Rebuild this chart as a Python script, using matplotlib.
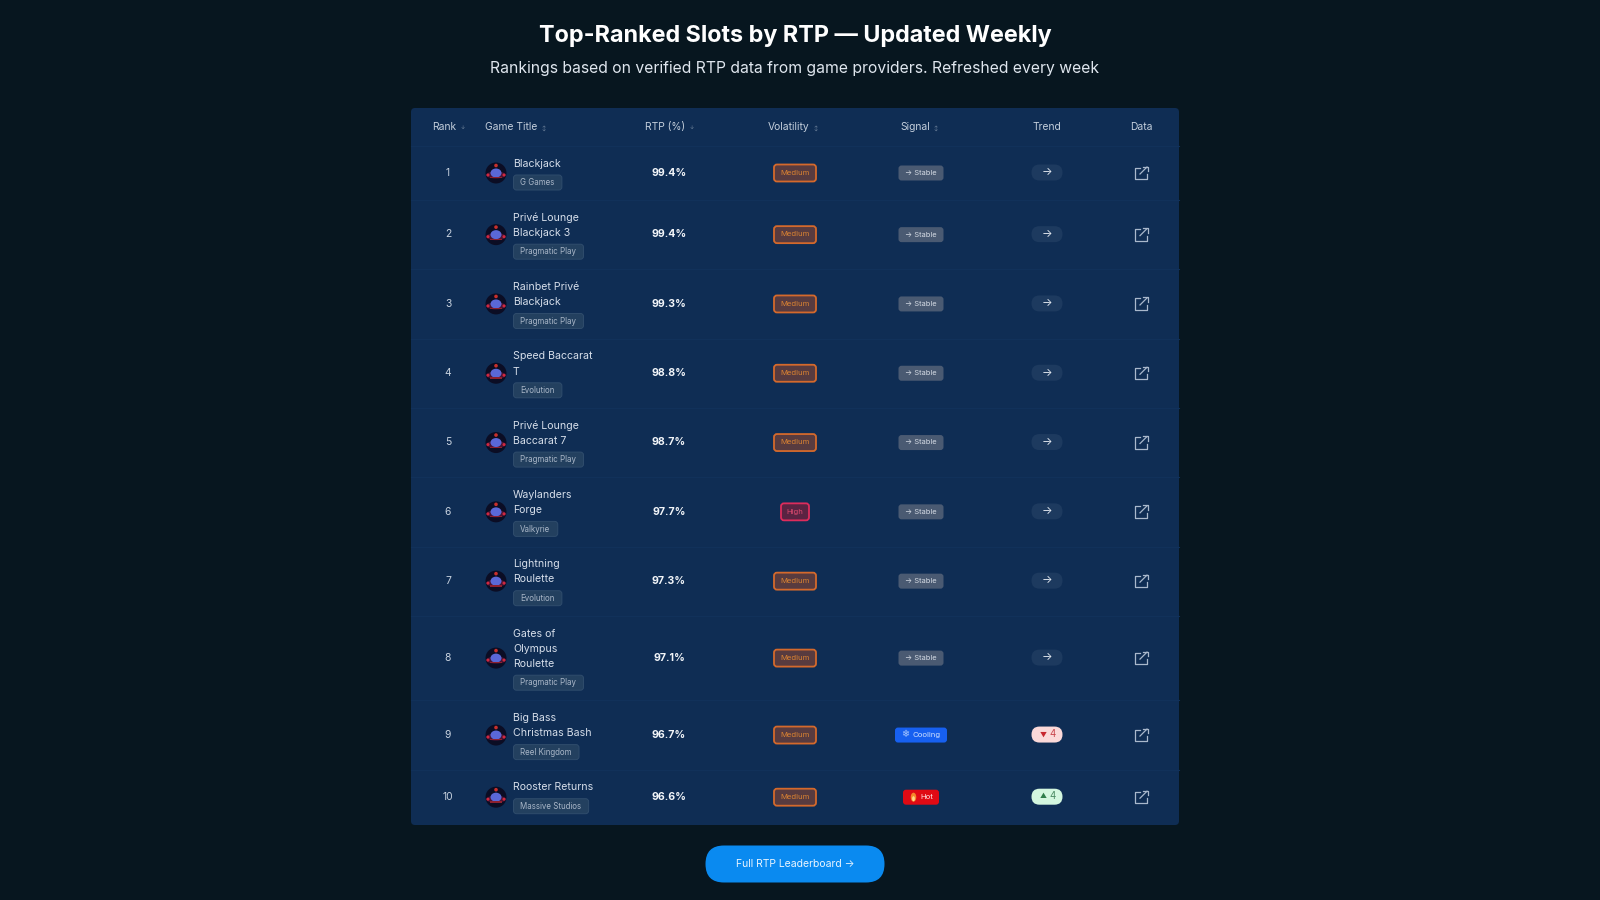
import matplotlib
matplotlib.use('Agg')
from matplotlib import pyplot as plt
from matplotlib.patches import FancyBboxPatch, Circle, Ellipse, Rectangle

plt.rcParams['font.family'] = ['Inter', 'DejaVu Sans']

# data
ranks = [1, 2, 3, 4, 5, 6, 7, 8, 9, 10]
titles = ['Blackjack', 'Privé Lounge\nBlackjack 3', 'Rainbet Privé\nBlackjack', 'Speed Baccarat\nT',
          'Privé Lounge\nBaccarat 7', 'Waylanders\nForge', 'Lightning\nRoulette',
          'Gates of\nOlympus\nRoulette', 'Big Bass\nChristmas Bash', 'Rooster Returns']
providers = ['G Games', 'Pragmatic Play', 'Pragmatic Play', 'Evolution', 'Pragmatic Play',
             'Valkyrie', 'Evolution', 'Pragmatic Play', 'Reel Kingdom', 'Massive Studios']
rtp = [99.4, 99.4, 99.3, 98.8, 98.7, 97.7, 97.3, 97.1, 96.7, 96.6]
volatility = ['Medium', 'Medium', 'Medium', 'Medium', 'Medium', 'High', 'Medium', 'Medium', 'Medium', 'Medium']
signal = ['Stable', 'Stable', 'Stable', 'Stable', 'Stable', 'Stable', 'Stable', 'Stable', 'Cooling', 'Hot']
trend = [0, 0, 0, 0, 0, 0, 0, 0, -4, 4]

BG = '#07161f'
PANEL = '#0f2d54'
LINE = '#11315a'
WHITE = '#f2f5f9'
SOFT = '#c9d3e0'

fig = plt.figure(figsize=(16, 9), dpi=100, facecolor=BG)
ax = fig.add_axes([0, 0, 1, 1])
ax.set_xlim(0, 1600)
ax.set_ylim(900, 0)
ax.axis('off')
rend = fig.canvas.get_renderer()


def box(cx, cy, w, h, fc, ec='none', lw=0, r=3, z=3):
    p = FancyBboxPatch((cx - w / 2, cy - h / 2), w, h, boxstyle='round,pad=0,rounding_size=%s' % r,
                       fc=fc, ec=ec, lw=lw, zorder=z)
    ax.add_patch(p)


def label(x, y, s, size=7, color=SOFT, ha='center', weight='normal', **kw):
    return ax.text(x, y + 0.8, s, fontsize=size, color=color, ha=ha, va='center', weight=weight, zorder=6, **kw)


def game_icon(cx, cy):
    ax.add_patch(Circle((cx, cy), 10.5, fc='#0b0d24', ec='none', zorder=3))
    ax.add_patch(Ellipse((cx, cy + 2), 20, 7, fc='#4a1434', ec='none', zorder=4))
    ax.add_patch(Ellipse((cx, cy), 11, 9, fc='#5a68d8', ec='none', zorder=5))
    ax.add_patch(Circle((cx, cy - 7.5), 1.8, fc='#c8302c', ec='none', zorder=5))
    ax.add_patch(Circle((cx - 8, cy + 2), 1.5, fc='#d02840', ec='none', zorder=5))
    ax.add_patch(Circle((cx + 8, cy + 2), 1.5, fc='#d02840', ec='none', zorder=5))
    ax.add_patch(Rectangle((cx - 6, cy + 4), 12, 1.4, fc='#8c2030', ec='none', zorder=5))


def export_icon(cx, cy):
    c = '#a9b8cc'
    ax.plot([cx - 1, cx - 6, cx - 6, cx + 6, cx + 6], [cy - 5.5, cy - 5.5, cy + 6, cy + 6, cy + 1],
            color=c, lw=0.9, zorder=5, solid_joinstyle='round')
    ax.plot([cx - 1, cx + 6], [cy + 1, cy - 6], color=c, lw=0.9, zorder=5)
    ax.plot([cx + 2, cx + 6.5, cx + 6.5], [cy - 6.5, cy - 6.5, cy - 2], color=c, lw=0.9, zorder=5)


# heading
label(795, 35.5, 'Top-Ranked Slots by RTP — Updated Weekly', size=16.8, color='#ffffff', weight='bold')
label(795, 67.5, 'Rankings based on verified RTP data from game providers. Refreshed every week', size=11.3, color='#dfe6ee')

# panel and header
row_h = [54 + 15.3 * t.count('\n') for t in titles]
row_h[-1] += 1
top = 146
box(795, 466.5, 768, 717, PANEL, r=4, z=1)
ax.plot([411, 1179], [top, top], color=LINE, lw=0.8, zorder=2)

for x, s, arrow in [(432, 'Rank', '↓'), (485, 'Game Title', '↕'), (645, 'RTP (%)', '↓'),
                    (768, 'Volatility', '↕'), (900, 'Signal', '↕')]:
    t = label(x, 126, s, size=7.4, ha='left', color='#c4cfdc')
    w = t.get_window_extent(rend).width
    label(x + w + 6, 127, arrow, size=3.6, color='#7f92a8')
label(1047, 126, 'Trend', size=7.4, color='#c4cfdc')
label(1141, 126, 'Data', size=7.4, color='#c4cfdc')

# rows
y0 = top
for i in range(len(ranks)):
    h = row_h[i]
    cy = y0 + h / 2 - 1
    if i < len(ranks) - 1:
        ax.plot([411, 1179], [y0 + h, y0 + h], color=LINE, lw=0.8, zorder=2)

    label(448, cy, str(ranks[i]), size=7.4, color=SOFT)
    game_icon(496, cy + 1)

    lines = titles[i].split('\n')
    for j, s in enumerate(lines):
        label(513, y0 + 17 + j * 15.2, s, size=7.6, ha='left', color='#d6deea')
    tag_y = y0 + 17 + (len(lines) - 1) * 15.2 + 19
    t = label(520, tag_y, providers[i], size=5.7, ha='left', color='#aab7c8')
    tw = t.get_window_extent(rend).width + 14
    box(513.5 + tw / 2, tag_y + 0.5, tw, 15, '#23405f', '#2f4c6c', 0.7)

    label(669, cy, '%.1f%%' % rtp[i], size=7.6, color=WHITE, weight='bold')

    if volatility[i] == 'Medium':
        box(795, cy + 1, 42, 17, '#583b3f', '#d4692c', 1.3)
        label(795, cy, 'Medium', size=5.6, color='#d98232')
    else:
        box(795, cy + 1, 28, 17, '#5a2342', '#dd2c5c', 1.3)
        label(795, cy, 'High', size=5.6, color='#dd4a70')

    if signal[i] == 'Stable':
        box(921, cy + 1, 45, 15, '#4a5a72')
        label(921, cy, '→ Stable', size=5.4, color='#d5dbe4')
    elif signal[i] == 'Cooling':
        box(921, cy + 1, 52, 15, '#1760f0')
        label(905, cy - 1, '❄', size=7, color='#a9c8ff')
        label(927, cy, 'Cooling', size=5.6, color='#cfe0ff')
    else:
        box(921, cy + 1, 36, 15, '#e00a14')
        ax.add_patch(Ellipse((913.5, cy + 1), 5.5, 9, fc='#f5862a', ec='none', zorder=5))
        ax.add_patch(Ellipse((913.5, cy + 2.5), 2.8, 5, fc='#ffd98a', ec='none', zorder=6))
        label(927, cy, 'Hot', size=5.6, color='#ffe2e2')

    if trend[i] == 0:
        box(1047, cy + 0.5, 31, 16, '#1d3a5f', r=8)
        label(1047, cy - 0.5, '→', size=8, color='#e6ebf2')
    elif trend[i] < 0:
        box(1047, cy + 0.5, 31, 16, '#fbd9d9', r=8)
        label(1043, cy - 0.5, '▼', size=5, color='#c8262e')
        label(1053, cy - 0.5, str(abs(trend[i])), size=7, color='#c8464c')
    else:
        box(1047, cy + 0.5, 31, 16, '#d3f6df', r=8)
        label(1043, cy - 0.5, '▲', size=5, color='#2e7d4a')
        label(1053, cy - 0.5, str(trend[i]), size=7, color='#4a8a62')

    export_icon(1141, cy + 1)
    y0 += h

# button
box(795, 864, 179, 37, '#0a8af0', r=18.5)
label(795, 863.5, 'Full RTP Leaderboard →', size=7.5, color='#e8f4ff')

fig.savefig('out.png', dpi=100, facecolor=BG)
